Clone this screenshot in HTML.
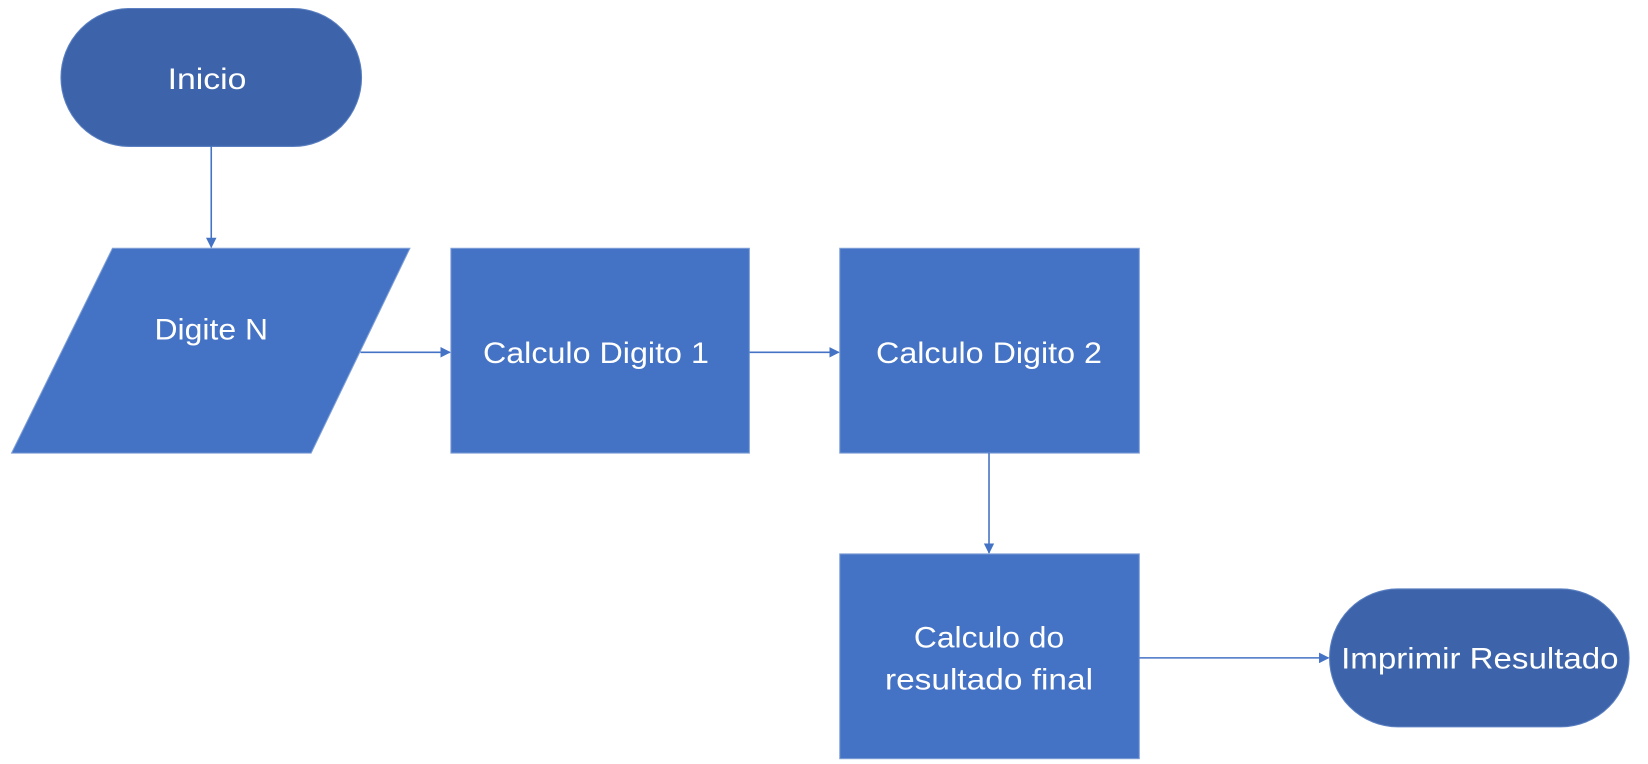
<!DOCTYPE html>
<html><head><meta charset="utf-8"><style>html,body{margin:0;padding:0;background:#fff;}svg{display:block}</style></head>
<body>
<svg width="1648" height="764" viewBox="0 0 1568 720" preserveAspectRatio="none" xmlns="http://www.w3.org/2000/svg">
<defs><marker id="a" markerWidth="10" markerHeight="10" refX="9" refY="5" orient="auto" markerUnits="userSpaceOnUse"><path d="M0,0 L10,5 L0,10 z" fill="#4472c4"/></marker></defs>
<g fill="#3d64ab" stroke="#5b7fc0" stroke-width="1">
<rect x="58" y="8" width="286" height="130" rx="65"/>
<rect x="1265" y="555" width="285" height="130" rx="65"/>
</g>
<g fill="#4472c4" stroke="#7f9fd6" stroke-width="1">
<polygon points="107,234 390,234 296,427 11,427"/>
<rect x="429" y="234" width="284" height="193"/>
<rect x="799" y="234" width="285" height="193"/>
<rect x="799" y="522" width="285" height="193"/>
</g>
<g stroke="#4472c4" stroke-width="1.5" fill="none">
<line x1="201" y1="138" x2="201" y2="233" marker-end="url(#a)"/>
<line x1="343" y1="332" x2="428" y2="332" marker-end="url(#a)"/>
<line x1="713" y1="332" x2="798" y2="332" marker-end="url(#a)"/>
<line x1="941" y1="427" x2="941" y2="521" marker-end="url(#a)"/>
<line x1="1084" y1="620" x2="1264" y2="620" marker-end="url(#a)"/>
</g>
<g fill="#fff" font-family="Liberation Sans, sans-serif" font-size="28" text-anchor="middle">
<text x="197" y="84" textLength="75" lengthAdjust="spacingAndGlyphs">Inicio</text>
<text x="201" y="320" textLength="108" lengthAdjust="spacingAndGlyphs">Digite N</text>
<text x="567" y="342" textLength="215" lengthAdjust="spacingAndGlyphs">Calculo Digito 1</text>
<text x="941" y="342" textLength="215" lengthAdjust="spacingAndGlyphs">Calculo Digito 2</text>
<text x="941" y="610" textLength="143" lengthAdjust="spacingAndGlyphs">Calculo do</text>
<text x="941" y="650" textLength="198" lengthAdjust="spacingAndGlyphs">resultado final</text>
<text x="1408" y="630" textLength="264" lengthAdjust="spacingAndGlyphs">Imprimir Resultado</text>
</g>
</svg>
</body></html>
